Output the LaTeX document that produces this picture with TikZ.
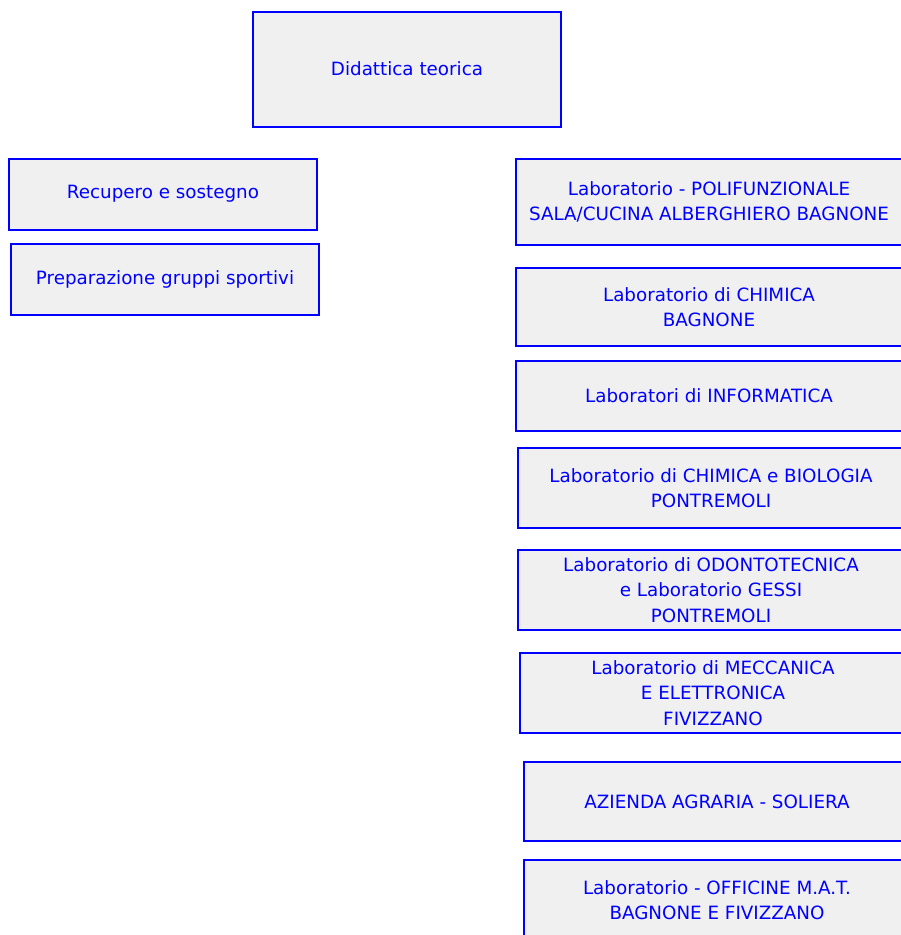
\documentclass[tikz,border=0pt]{standalone}
\usepackage{fontspec}
\setmainfont{DejaVu Sans}
\definecolor{boxblue}{RGB}{0,0,255}
\definecolor{boxfill}{RGB}{240,240,240}
\begin{document}
\begin{tikzpicture}[x=1pt,y=-1pt,
  box/.style={draw=boxblue, line width=2pt, fill=boxfill, text=boxblue,
    align=center, inner sep=0pt, font=\fontsize{18.3}{25.5}\selectfont}]
\useasboundingbox (0,0) rectangle (901,935);
\clip (0,0) rectangle (901,935);
\node[box, minimum width=308pt, minimum height=115pt] (did) at (407,69) {Didattica teorica};
\node[box, minimum width=308pt, minimum height=71pt] (rec) at (163,194) {Recupero e sostegno};
\node[box, minimum width=308pt, minimum height=71pt] (prep) at (165,279) {Preparazione gruppi sportivi};
\node[box, minimum width=386pt, minimum height=86pt] (poli) at (709,202) {Laboratorio - POLIFUNZIONALE\\SALA/CUCINA ALBERGHIERO BAGNONE};
\node[box, minimum width=386pt, minimum height=78pt] (chim) at (709,307) {Laboratorio di CHIMICA\\BAGNONE};
\node[box, minimum width=386pt, minimum height=70pt] (info) at (709,396) {Laboratori di INFORMATICA};
\node[box, minimum width=386pt, minimum height=80pt] (chbio) at (711,488) {Laboratorio di CHIMICA e BIOLOGIA\\PONTREMOLI};
\node[box, minimum width=386pt, minimum height=80pt] (odo) at (711,590) {Laboratorio di ODONTOTECNICA\\e Laboratorio GESSI\\PONTREMOLI};
\node[box, minimum width=386pt, minimum height=80pt] (mecc) at (713,693) {Laboratorio di MECCANICA\\E ELETTRONICA\\FIVIZZANO};
\node[box, minimum width=386pt, minimum height=79pt] (agr) at (717,801.5) {AZIENDA AGRARIA - SOLIERA};
\node[box, minimum width=386pt, minimum height=80pt] (off) at (717,900) {Laboratorio - OFFICINE M.A.T.\\BAGNONE E FIVIZZANO};
\end{tikzpicture}
\end{document}
